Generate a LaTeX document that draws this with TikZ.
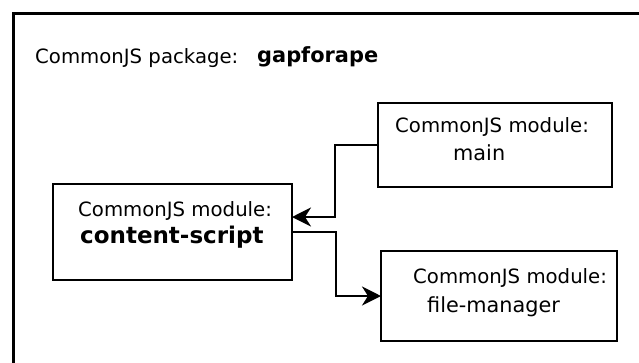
\documentclass[tikz,border=0pt]{standalone}
\usepackage{fontspec}
\setmainfont{DejaVu Sans}
\usetikzlibrary{arrows.meta}
\tikzset{
  modbox/.style={draw, line width=2.5pt, minimum width=234pt, minimum height=84pt,
    anchor=north west, inner sep=0pt, outer sep=0pt, fill=white},
  lbl/.style={anchor=base west, inner sep=0pt, font=\fontsize{19.7}{22}\selectfont},
  modname/.style={anchor=base west, inner sep=0pt, font=\fontsize{20.8}{24}\selectfont},
  conn/.style={line width=2.4pt, -{Stealth[length=19pt, width=19pt, inset=6pt]}},
}
\begin{document}
\begin{tikzpicture}[x=1pt, y=-1pt]
  \useasboundingbox (0,0) rectangle (639,362);
  \clip (0,0) rectangle (639,362);
  % package frame, running past the right and bottom edges
  \draw[line width=3pt] (13.5,13.5) rectangle (660,380);
  \node[lbl] (pkglbl) at (35,63) {CommonJS package:};
  \node[modname, font=\bfseries\fontsize{20.9}{24}\selectfont] (pkgname) at (257,62) {gapforape};

  % module boxes
  \node[modbox, minimum width=234pt, minimum height=84pt] (main) at (378,103) {};
  \node[modbox, minimum width=239pt, minimum height=96pt] (cs) at (53,184) {};
  \node[modbox, minimum width=236pt, minimum height=90pt] (fm) at (381,251) {};

  % module labels
  \node[lbl] (mainlbl) at (395,132) {CommonJS module:};
  \node[modname] (mainname) at (453,160) {main};
  \node[lbl] (cslbl) at (78,216) {CommonJS module:};
  \node[modname, font=\bfseries\fontsize{23}{26}\selectfont] (csname) at (80,243) {content-script};
  \node[lbl] (fmlbl) at (413,283) {CommonJS module:};
  \node[modname] (fmname) at (427,312) {file-manager};

  % dependencies
  \draw[conn] (main.west) -- ++(-43,0) |- (cs.east |- 0,217);
  \draw[conn] (cs.east) -- ++(44,0) |- (fm.west);
\end{tikzpicture}
\end{document}
